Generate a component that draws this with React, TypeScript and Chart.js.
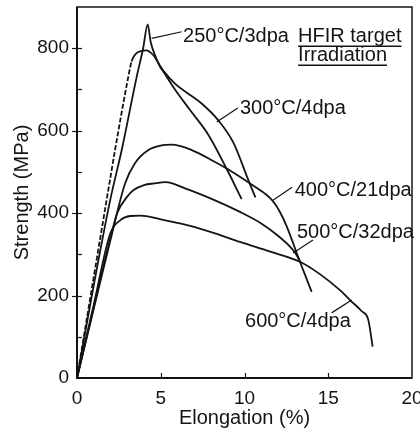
import React, { useEffect, useRef } from "react";
import { Chart, registerables } from "chart.js";

Chart.register(...registerables);

// ---- Data ----
const xTickLabels = [0, 5, 10, 15, 20];
const yTickLabels = [0, 200, 400, 600, 800];

const strain250 = [0, 1, 2, 2.67, 3.56, 3.95, 4.22, 4.4, 4.66, 4.96, 5.16, 5.85, 6.75, 7.84, 8.9, 9.83];
const stress250 = [0, 225, 435, 553, 730, 800, 858, 815, 783, 755, 743, 700, 650, 590, 510, 434];

const strain300 = [0, 1, 2, 2.27, 3.06, 3.26, 3.66, 4.12, 4.56, 4.96, 5.16, 5.85, 7.44, 8.44, 9.35, 10.23, 10.65];
const stress300 = [0, 245, 488, 553, 730, 768, 791, 795, 783, 757, 745, 714, 666, 625, 570, 480, 438];

const strain400 = [0, 1, 2, 2.87, 3.46, 4.26, 5.0, 5.65, 6.85, 8.24, 8.94, 10.4, 11.2, 11.72, 12.1, 12.52, 13.31, 14.01];
const stress400 = [0, 168, 335, 472, 521, 553, 564, 566, 553, 524, 508, 470, 448, 428, 404, 368, 282, 209];

const strain500 = [0, 1, 2, 2.39, 3.0, 3.38, 4.0, 4.6, 5.3, 6.45, 8.24, 9.73, 11.0, 12.0, 13.0, 13.35];
const stress500 = [0, 172, 340, 399, 440, 456, 468, 472, 475, 460, 431, 403, 375, 345, 305, 280];

const strain600 = [0, 1, 1.99, 2.59, 3.18, 3.78, 5.0, 6.57, 8.24, 9.73, 11.5, 13.31, 14.5, 15.7, 16.3, 17.0, 17.39, 17.65];
const stress600 = [0, 178, 351, 383, 393, 394, 385, 371, 351, 330, 307, 282, 252, 213, 189, 162, 141, 76];

// Curve annotations (data coordinates)
const labelTexts = ["250°C/3dpa", "HFIR target", "Irradiation", "300°C/4dpa", "400°C/21dpa", "500°C/32dpa", "600°C/4dpa"];
const labelX = [6.33, 13.2, 13.2, 9.73, 13.0, 13.13, 10.03];
const labelY = [829, 829, 783, 655, 456, 354, 138];
const labelUnderlined = [false, true, true, false, false, false, false];

const leaderX1 = [4.46, 8.34, 11.7, 12.9, 15.2];
const leaderY1 = [824, 621, 431, 303, 158];
const leaderX2 = [6.25, 9.6, 12.84, 14.09, 16.4];
const leaderY2 = [840, 655, 463, 335, 189];

const FONT = "'Liberation Sans', Arial, Helvetica, sans-serif";
const INK = "#141414";

const toPts = (xs: number[], ys: number[]) => xs.map((x, i) => ({ x, y: ys[i] }));

const decorPlugin = {
  id: "decor",
  afterDraw(chart: any) {
    const { ctx, chartArea, scales } = chart;
    const xs = scales.x;
    const ys = scales.y;
    const { left, right, top, bottom } = chartArea;
    ctx.save();
    ctx.strokeStyle = INK;
    ctx.fillStyle = INK;
    // frame
    ctx.lineWidth = 1.5;
    ctx.strokeRect(left, top, right - left, bottom - top);
    ctx.lineWidth = 2;
    ctx.beginPath();
    ctx.moveTo(left, top);
    ctx.lineTo(left, bottom);
    ctx.lineTo(right, bottom);
    ctx.stroke();
    // ticks (inside)
    ctx.lineWidth = 1.2;
    ys.ticks.forEach((t: any) => {
      if (t.value <= 0 || t.value >= ys.max) return;
      const py = Math.round(ys.getPixelForValue(t.value)) + 0.5;
      const labeled = yTickLabels.includes(t.value);
      ctx.beginPath();
      ctx.moveTo(left - (labeled ? 5 : 0), py);
      ctx.lineTo(left + 5, py);
      ctx.stroke();
    });
    xs.ticks.forEach((t: any) => {
      if (t.value <= 0 || t.value >= xs.max) return;
      const px = Math.round(xs.getPixelForValue(t.value)) + 0.5;
      ctx.beginPath();
      ctx.moveTo(px, bottom);
      ctx.lineTo(px, bottom - 5);
      ctx.stroke();
    });
    // leader lines
    ctx.lineWidth = 1.2;
    leaderX1.forEach((x1, i) => {
      ctx.beginPath();
      ctx.moveTo(xs.getPixelForValue(x1), ys.getPixelForValue(leaderY1[i]));
      ctx.lineTo(xs.getPixelForValue(leaderX2[i]), ys.getPixelForValue(leaderY2[i]));
      ctx.stroke();
    });
    // labels
    ctx.font = `20px ${FONT}`;
    ctx.textAlign = "left";
    ctx.textBaseline = "middle";
    labelTexts.forEach((txt, i) => {
      const px = xs.getPixelForValue(labelX[i]);
      const py = ys.getPixelForValue(labelY[i]);
      ctx.fillText(txt, px, py);
      if (labelUnderlined[i]) {
        const w = ctx.measureText(txt).width;
        ctx.lineWidth = 1.5;
        ctx.beginPath();
        ctx.moveTo(px, py + 10);
        ctx.lineTo(px + w, py + 10);
        ctx.stroke();
      }
    });
    ctx.restore();
  },
};

export default function App() {
  const ref = useRef<HTMLCanvasElement | null>(null);

  useEffect(() => {
    if (!ref.current) return;
    const line = (xs: number[], ys: number[], extra: any = {}) => ({
      data: toPts(xs, ys),
      borderColor: INK,
      borderWidth: 1.8,
      pointRadius: 0,
      fill: false,
      cubicInterpolationMode: "monotone",
      ...extra,
    });
    const chart = new Chart(ref.current, {
      type: "line",
      data: {
        datasets: [
          line(strain250, stress250, { label: "250°C/3dpa" }),
          line(strain300, stress300, {
            label: "300°C/4dpa",
            segment: {
              borderDash: (c: any) => (c.p1.parsed.x <= 3.3 ? [5, 2] : undefined),
            },
          }),
          line(strain400, stress400, { label: "400°C/21dpa" }),
          line(strain500, stress500, { label: "500°C/32dpa" }),
          line(strain600, stress600, { label: "600°C/4dpa" }),
        ] as any,
      },
      options: {
        animation: false,
        responsive: false,
        devicePixelRatio: 1,
        layout: { padding: { top: 7, right: 8, left: 0, bottom: 0 } },
        plugins: { legend: { display: false }, tooltip: { enabled: false } },
        scales: {
          x: {
            type: "linear",
            min: 0,
            max: 20,
            border: { display: false },
            grid: { display: false, drawTicks: false },
            ticks: {
              stepSize: 5,
              autoSkip: false,
              maxRotation: 0,
              padding: 9,
              color: INK,
              font: { family: FONT, size: 19 },
              callback: (v: any) => (xTickLabels.includes(Number(v)) ? String(v) : ""),
            },
            title: {
              display: true,
              text: "Elongation (%)",
              color: INK,
              font: { family: FONT, size: 20 },
              padding: { top: 0, bottom: 0 },
            },
            afterFit: (s: any) => {
              s.height = 52;
              s.paddingLeft = 0;
              s.paddingRight = 0;
            },
          },
          y: {
            type: "linear",
            min: 0,
            max: 900,
            border: { display: false },
            grid: { display: false, drawTicks: false },
            ticks: {
              stepSize: 100,
              autoSkip: false,
              padding: 8,
              color: INK,
              font: { family: FONT, size: 19 },
              callback: (v: any) => (yTickLabels.includes(Number(v)) ? String(v) : ""),
            },
            title: {
              display: true,
              text: "Strength (MPa)",
              color: INK,
              font: { family: FONT, size: 20 },
              padding: { top: 10, bottom: 0 },
            },
            afterFit: (s: any) => {
              s.width = 77;
              s.paddingTop = 0;
              s.paddingBottom = 0;
            },
          },
        },
      } as any,
      plugins: [decorPlugin],
    });
    return () => chart.destroy();
  }, []);

  return (
    <div style={{ position: "absolute", left: 0, top: 0, width: 420, height: 430, background: "#fff" }}>
      <canvas ref={ref} width={420} height={430} style={{ display: "block" }} />
    </div>
  );
}
